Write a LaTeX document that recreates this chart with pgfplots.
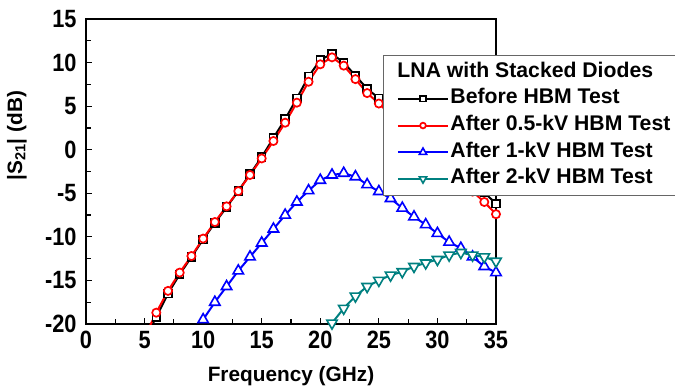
\documentclass[border=0pt]{standalone}
\usepackage{fontspec}
\setmainfont{Liberation Sans}
\newfontfamily\tickfont{Liberation Sans}[FakeStretch=0.87]
\usepackage{pgfplots}
\pgfplotsset{compat=1.18}
\usetikzlibrary{calc}
\definecolor{myteal}{RGB}{0,128,128}
\begin{document}
\begin{tikzpicture}
\begin{axis}[
  scale only axis, width=410bp, height=305bp,
  xmin=0, xmax=35, ymin=-20, ymax=15,
  xtick={0,5,...,35}, ytick={-20,-15,...,15},
  minor x tick num=1, minor y tick num=1,
  tick align=inside, tick pos=left,
  major tick length=6bp, minor tick length=5bp,
  every tick/.style={black, line width=1.2bp},
  axis line style={line width=1.8bp},
  tick label style={font=\tickfont\fontsize{25bp}{28bp}\selectfont\bfseries},
  xticklabel style={yshift=-4bp},
  yticklabel style={xshift=-6bp},
  /pgf/number format/assume math mode=true,
  xlabel={Frequency (GHz)},
  ylabel={|S\textsubscript{21}| (dB)},
  every axis x label/.style={at={(rel axis cs:0.5,0)}, anchor=center, yshift=-52bp, font=\fontsize{20.8bp}{25bp}\selectfont\bfseries},
  every axis y label/.style={at={($(rel axis cs:0,0.566)+(-69bp,0)$)}, anchor=center, rotate=90, font=\fontsize{20.8bp}{25bp}\selectfont\bfseries},
  legend image code/.code={\draw[mark repeat=2,mark phase=2,/tikz/every mark/.append style={scale=0.7}] plot coordinates {(0bp,0bp)(25bp,0bp)(50bp,0bp)};},
  legend style={at={(rel axis cs:0.7256,0.8815)}, anchor=north west, draw=black!60, line width=1pt, fill=white,
    font=\fontsize{21.2bp}{25bp}\selectfont\bfseries, inner xsep=13bp, inner ysep=4bp, row sep=1.7bp,
    cells={anchor=west}, nodes={inner sep=1.5bp, text height=16bp, text depth=6bp}},
  every axis plot/.append style={line width=2bp},
]
\coordinate (O) at (rel axis cs:0,0);
\addlegendimage{empty legend}
\addlegendentry{\hspace*{-53bp}LNA with Stacked Diodes}
\addplot[black, mark=square*, mark size=3.9bp, mark options={fill=white, line width=1.7bp}] coordinates {
(5,-21.8)(6,-19.2)(7,-16.5)(8,-14.3)(9,-12.3)(10,-10.3)(11,-8.4)(12,-6.6)(13,-4.75)(14,-2.8)(15,-0.85)
(16,1.35)(17,3.5)(18,5.9)(19,8.4)(20,10.3)(21,11.0)(22,10.0)(23,8.5)(24,7.0)(25,5.9)
(26,4.8)(27,3.6)(28,2.5)(29,1.3)(30,0.1)(31,-1.2)(32,-2.5)(33,-3.7)(34,-4.9)(35,-6.2)};
\addlegendentry{Before HBM Test}
\addplot[red, mark=*, mark size=4.1bp, mark options={fill=white, line width=1.7bp}] coordinates {
(5,-21.5)(6,-18.7)(7,-16.2)(8,-14.1)(9,-12.2)(10,-10.2)(11,-8.3)(12,-6.5)(13,-4.75)(14,-2.9)(15,-1.0)
(16,1.0)(17,3.1)(18,5.4)(19,7.8)(20,9.8)(21,10.6)(22,9.65)(23,8.1)(24,6.5)(25,5.3)
(26,4.0)(27,2.7)(28,1.5)(29,0.3)(30,-1.0)(31,-2.3)(32,-3.5)(33,-4.8)(34,-6.0)(35,-7.4)};
\addlegendentry{After 0.5-kV HBM Test}
\addplot[blue, mark=triangle*, mark size=6bp, mark options={fill=white, line width=1.6bp}] coordinates {
(10,-19.5)(11,-17.5)(12,-15.7)(13,-13.9)(14,-12.3)(15,-10.7)(16,-9.1)(17,-7.5)(18,-6.0)(19,-4.7)
(20,-3.5)(21,-2.9)(22,-2.7)(23,-3.1)(24,-4.0)(25,-4.8)(26,-5.6)(27,-6.7)(28,-7.7)(29,-8.6)
(30,-9.6)(31,-10.6)(32,-11.3)(33,-12.3)(34,-13.4)(35,-14.1)};
\addlegendentry{After 1-kV HBM Test}
\addplot[myteal, mark=triangle*, mark size=6bp, mark options={fill=white, line width=1.6bp, rotate=180}] coordinates {
(21,-19.9)(22,-18.2)(23,-16.8)(24,-15.7)(25,-15.0)(26,-14.4)(27,-14.0)(28,-13.4)(29,-13.0)
(30,-12.6)(31,-12.1)(32,-11.8)(33,-12.1)(34,-12.3)(35,-12.8)};
\addlegendentry{After 2-kV HBM Test}
\end{axis}
\pgfresetboundingbox
\path ([shift={(-86bp,-64bp)}]O) rectangle ([shift={(589bp,324bp)}]O);
\end{tikzpicture}
\end{document}
